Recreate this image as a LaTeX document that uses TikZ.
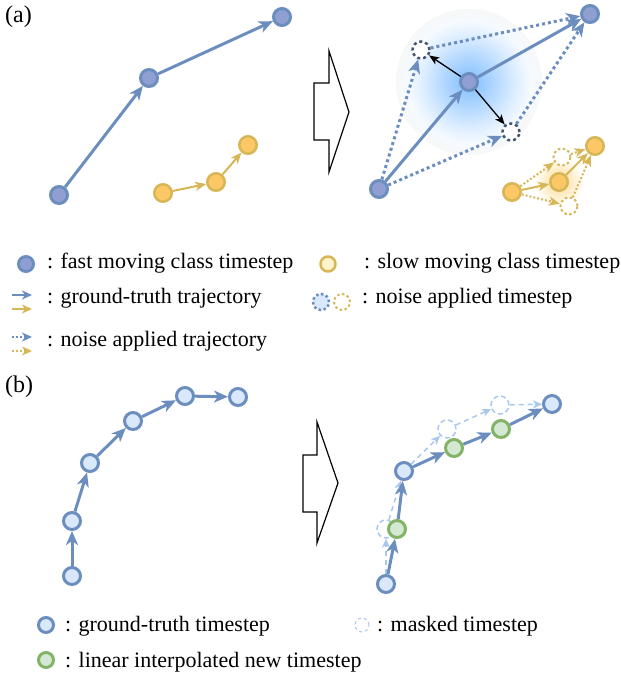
\documentclass[tikz,border=0pt]{standalone}
\usepackage{fontspec}
\setmainfont{Liberation Serif}
\usetikzlibrary{arrows.meta}
\definecolor{bstroke}{HTML}{6C8EBF}
\definecolor{bfill}{HTML}{909FD1}
\definecolor{ystroke}{HTML}{D6B656}
\definecolor{yfill}{HTML}{FBC865}
\definecolor{lyfill}{HTML}{FFF2CC}
\definecolor{lbfill}{HTML}{DAE8FC}
\definecolor{gfill}{HTML}{D5E8D4}
\definecolor{gstroke}{HTML}{82B366}
\definecolor{mstroke}{HTML}{A9C8EE}
\definecolor{nstroke}{HTML}{445670}
\definecolor{glowc}{HTML}{88C2FF}
\definecolor{glowy}{HTML}{FFDD99}
\pgfdeclareradialshading{glowb}{\pgfpoint{0bp}{0bp}}{color(0bp)=(glowc); color(4bp)=(glowc!88!white); color(10bp)=(glowc!58!white); color(16bp)=(glowc!28!white); color(21bp)=(glowc!8!white); color(25bp)=(black!3); color(50bp)=(black!3)}
\pgfdeclareradialshading{glowyel}{\pgfpoint{0bp}{0bp}}{color(0bp)=(glowy); color(12bp)=(glowy!60!white); color(25bp)=(white); color(50bp)=(white)}
\begin{document}
\begin{tikzpicture}[x=1pt,y=-1pt,
  lbl/.style={font=\fontsize{22}{26}\selectfont, inner sep=0pt, anchor=base west},
  plbl/.style={font=\fontsize{24}{28}\selectfont, inner sep=0pt, anchor=base west},
  pnode/.style={circle, minimum size=17pt, inner sep=0pt, line width=3pt},
  fast/.style={pnode, draw=bstroke, fill=bfill},
  slow/.style={pnode, draw=ystroke, fill=yfill, line width=2.5pt, minimum size=17.5pt},
  noiseb/.style={pnode, draw=nstroke, fill=white, line width=2.5pt, dash pattern=on 3pt off 3pt},
  noisey/.style={pnode, draw=ystroke, fill=white, line width=2pt, dash pattern=on 2.5pt off 2.5pt},
  gt/.style={pnode, draw=bstroke, fill=lbfill},
  newts/.style={pnode, draw=gstroke, fill=gfill},
  masked/.style={pnode, draw=mstroke, line width=1.5pt, dash pattern=on 5pt off 3pt, minimum size=18pt},
  barr/.style={draw=bstroke, line width=3pt, -{Stealth[length=14pt,width=12pt,inset=4pt]}},
  yarr/.style={draw=ystroke, line width=2pt, -{Stealth[length=11pt,width=9pt,inset=3pt]}},
  bdot/.style={barr, dash pattern=on 3pt off 3pt},
  ydot/.style={yarr, dash pattern=on 2pt off 2pt},
  karr/.style={draw=black, line width=1.3pt, -{Stealth[length=10pt,width=8pt,inset=2.5pt]}},
  marr/.style={draw=mstroke, line width=1.5pt, dash pattern=on 5pt off 4pt, -{Stealth[length=9pt,width=8pt,inset=2.5pt]}},
  larr/.style={line width=2pt, -{Stealth[length=10pt,width=9pt,inset=3pt]}},
  bigarrow/.style={draw=black, line width=1.2pt, fill=white, line join=miter}
]
\useasboundingbox (0,0) rectangle (621,673);

% ---------------- (a) ----------------
\node[plbl] (la) at (5,22) {(a)};
% left
\node[fast] (A1) at (59,195) {};
\node[fast] (A2) at (149,78) {};
\node[fast] (A3) at (282,17) {};
\draw[barr] (A1) -- (A2);
\draw[barr] (A2) -- (A3);
\node[slow] (Y1) at (163,193) {};
\node[slow] (Y2) at (216,182) {};
\node[slow] (Y3) at (248,145) {};
\draw[yarr] (Y1) -- (Y2);
\draw[yarr] (Y2) -- (Y3);
% big arrow
\draw[bigarrow] (314,83) -- (329,83) -- (329,51) -- (349,112) -- (329,172) -- (329,140) -- (314,140) -- cycle;
% right
\coordinate (gc) at (469,82);
\shade[shading=glowb] (gc) circle (73);
\coordinate (gy) at (559,182);
\shade[shading=glowyel] (gy) circle (25);
\node[fast] (B1) at (379,189) {};
\node[fast] (B2) at (469,82) {};
\node[fast] (B3) at (590,14) {};
\node[noiseb] (N1) at (421,50) {};
\node[noiseb] (N2) at (511,132) {};
\draw[bdot] (B1) -- (N1);
\draw[bdot] (N1) -- (B3);
\draw[bdot] (B1) -- (N2);
\draw[bdot] (N2) -- (B3);
\draw[barr] (B1) -- (B2);
\draw[barr] (B2) -- (B3);
\draw[karr] (B2) -- (N1);
\draw[karr] (B2) -- (N2);
\node[noisey] (M1) at (562,157) {};
\node[noisey] (M2) at (569,206) {};
\node[slow] (Z1) at (512,192) {};
\node[slow] (Z2) at (559,182) {};
\node[slow] (Z3) at (595,146) {};
\draw[ydot] (Z1) -- (M1);
\draw[ydot] (M1) -- (Z3);
\draw[ydot] (Z1) -- (M2);
\draw[ydot] (M2) -- (Z3);
\draw[yarr] (Z1) -- (Z2);
\draw[yarr] (Z2) -- (Z3);

% legend (a)
\node[fast, minimum size=15pt] (lgf) at (26,264) {};
\node[lbl] (tf) at (47,268) {: fast moving class timestep};
\node[slow, fill=lyfill, minimum size=15pt] (lgs) at (328,264) {};
\node[lbl] (ts) at (364,268) {: slow moving class timestep};
\coordinate (r2a) at (12,295); \coordinate (r2b) at (32,295);
\coordinate (r2c) at (12,309); \coordinate (r2d) at (32,309);
\draw[larr, draw=bstroke] (r2a) -- (r2b);
\draw[larr, draw=ystroke] (r2c) -- (r2d);
\node[lbl] (tg) at (47,303) {: ground-truth trajectory};
\node[pnode, draw=bstroke, fill=lbfill, line width=2.5pt, dash pattern=on 2.5pt off 2.5pt, minimum size=16pt] (lnb) at (321,302) {};
\node[pnode, draw=ystroke, fill=white, line width=2pt, dash pattern=on 2.5pt off 2.5pt, minimum size=16pt] (lny) at (342,302) {};
\node[lbl] (tn) at (362,303) {: noise applied timestep};
\coordinate (r3a) at (12,337); \coordinate (r3b) at (32,337);
\coordinate (r3c) at (12,351); \coordinate (r3d) at (32,351);
\draw[larr, draw=bstroke, dash pattern=on 2pt off 2pt] (r3a) -- (r3b);
\draw[larr, draw=ystroke, dash pattern=on 2pt off 2pt] (r3c) -- (r3d);
\node[lbl] (tt) at (47,346) {: noise applied trajectory};

% ---------------- (b) ----------------
\node[plbl] (lb) at (5,392) {(b)};
\node[gt] (C1) at (72,576) {};
\node[gt] (C2) at (72,521) {};
\node[gt] (C3) at (90,463) {};
\node[gt] (C4) at (133,421) {};
\node[gt] (C5) at (185,396) {};
\node[gt] (C6) at (238,397) {};
\draw[barr] (C1) -- (C2);
\draw[barr] (C2) -- (C3);
\draw[barr] (C3) -- (C4);
\draw[barr] (C4) -- (C5);
\draw[barr] (C5) -- (C6);
% big arrow
\draw[bigarrow] (303,455) -- (317,455) -- (317,422) -- (338,483) -- (317,543) -- (317,512) -- (303,512) -- cycle;
% right
\node[masked] (K1) at (386,529) {};
\node[masked] (K2) at (447,429) {};
\node[masked] (K3) at (500,405) {};
\node[gt] (D1) at (386,584) {};
\node[gt] (D2) at (404,471) {};
\node[gt] (D3) at (552,404) {};
\draw[marr] (D1) -- (K1);
\draw[marr] (K1) -- (D2);
\draw[marr] (D2) -- (K2);
\draw[marr] (K2) -- (K3);
\draw[marr] (K3) -- (D3);
\node[newts] (G1) at (397,529) {};
\node[newts] (G2) at (454,448) {};
\node[newts] (G3) at (501,429) {};
\draw[barr] (D1) -- (G1);
\draw[barr] (G1) -- (D2);
\draw[barr] (D2) -- (G2);
\draw[barr] (G2) -- (G3);
\draw[barr] (G3) -- (D3);

% legend (b)
\node[gt, minimum size=15pt] (lgt) at (46,625) {};
\node[lbl] (tgt) at (65,631) {: ground-truth timestep};
\node[masked, minimum size=14pt, line width=1pt, dash pattern=on 3pt off 3pt] (lgm) at (362,625) {};
\node[lbl] (tm) at (377,631) {: masked timestep};
\node[newts, minimum size=15pt] (lgn) at (46,660) {};
\node[lbl] (tln) at (65,667) {: linear interpolated new timestep};
\end{tikzpicture}
\end{document}
